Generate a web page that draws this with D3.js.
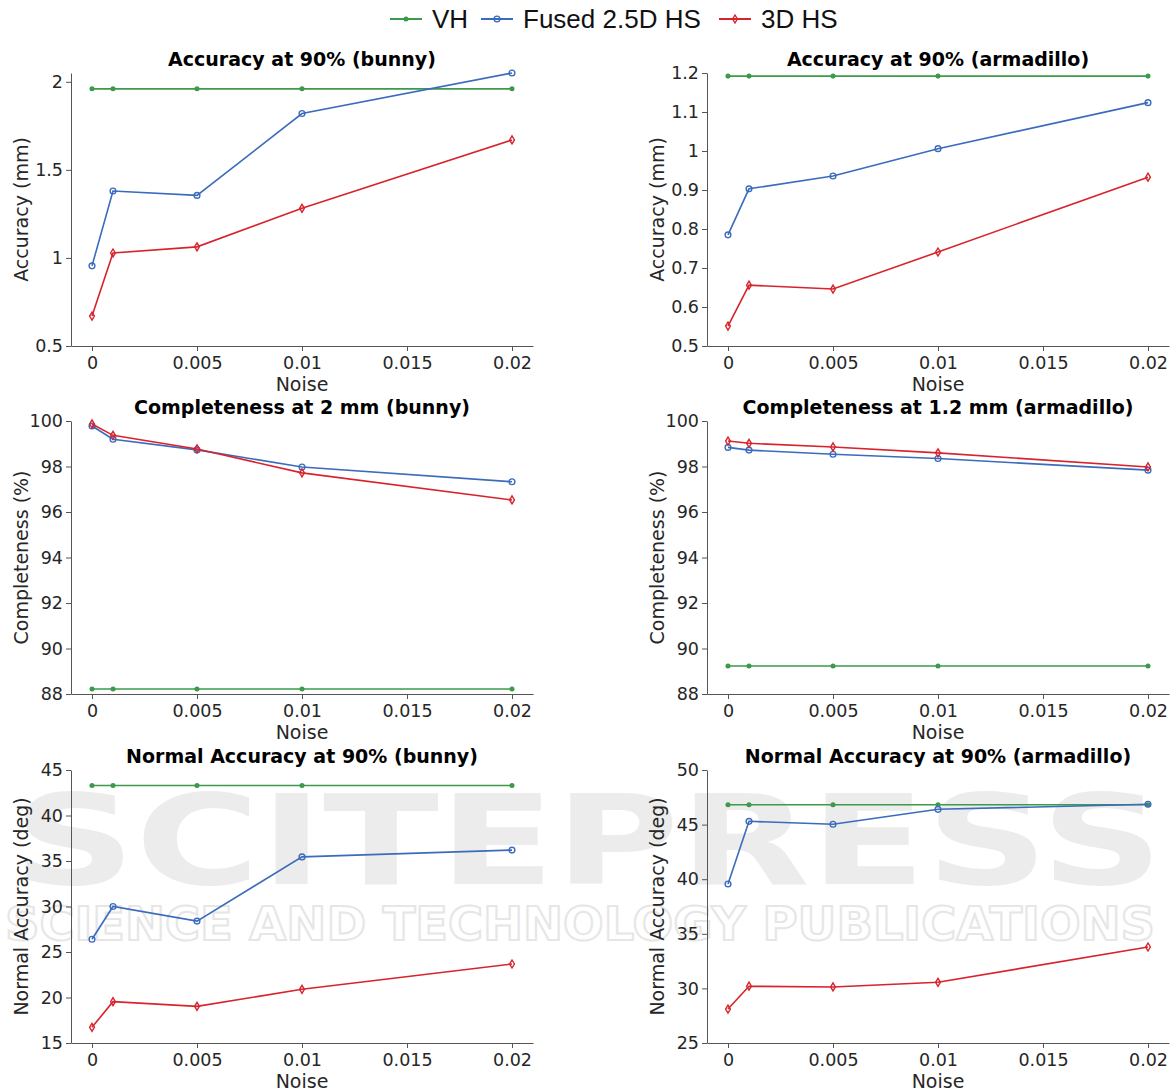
<!DOCTYPE html>
<html>
<head>
<meta charset="utf-8">
<script src="https://cdn.jsdelivr.net/npm/d3@7"></script>
<style>
  body { margin: 0; background: #fff; }
  svg { display: block; font-family: "DejaVu Sans", sans-serif; }
</style>
</head>
<body>
<svg id="chart" width="1176" height="1092"></svg>
<script>
const noise = [0, 0.001, 0.005, 0.01, 0.02];
const xTicks = [0, 0.005, 0.01, 0.015, 0.02];
const seriesNames = ["VH", "Fused 2.5D HS", "3D HS"];

// bunny accuracy (mm)
const accBunnyVH = [1.96, 1.96, 1.96, 1.96, 1.96];
const accBunnyFused = [0.955, 1.38, 1.355, 1.82, 2.05];
const accBunny3D = [0.67, 1.028, 1.063, 1.282, 1.67];
// armadillo accuracy (mm)
const accArmaVH = [1.192, 1.192, 1.192, 1.192, 1.192];
const accArmaFused = [0.785, 0.903, 0.936, 1.006, 1.124];
const accArma3D = [0.551, 0.656, 0.646, 0.741, 0.933];
// bunny completeness (%)
const compBunnyVH = [88.22, 88.22, 88.22, 88.22, 88.22];
const compBunnyFused = [99.78, 99.2, 98.73, 97.98, 97.33];
const compBunny3D = [99.87, 99.37, 98.77, 97.72, 96.53];
// armadillo completeness (%)
const compArmaVH = [89.23, 89.23, 89.23, 89.23, 89.23];
const compArmaFused = [98.84, 98.72, 98.54, 98.35, 97.84];
const compArma3D = [99.12, 99.02, 98.86, 98.6, 97.98];
// bunny normal accuracy (deg)
const normBunnyVH = [43.3, 43.3, 43.3, 43.3, 43.3];
const normBunnyFused = [26.4, 30.0, 28.4, 35.45, 36.2];
const normBunny3D = [16.72, 19.54, 19.03, 20.9, 23.68];
// armadillo normal accuracy (deg)
const normArmaVH = [46.82, 46.82, 46.82, 46.82, 46.82];
const normArmaFused = [39.56, 45.3, 45.03, 46.4, 46.86];
const normArma3D = [28.11, 30.2, 30.13, 30.56, 33.79];

const colors = ["#3c9a4a", "#3a6bbd", "#d8232c"];

const panels = [
  { title: "Accuracy at 90% (bunny)", ylabel: "Accuracy (mm)", domain: [0.5, 2.05], ticks: [0.5, 1, 1.5, 2],
    series: [accBunnyVH, accBunnyFused, accBunny3D], col: 0, row: 0 },
  { title: "Accuracy at 90% (armadillo)", ylabel: "Accuracy (mm)", domain: [0.5, 1.2], ticks: [0.5, 0.6, 0.7, 0.8, 0.9, 1, 1.1, 1.2],
    series: [accArmaVH, accArmaFused, accArma3D], col: 1, row: 0 },
  { title: "Completeness at 2 mm (bunny)", ylabel: "Completeness (%)", domain: [88, 100], ticks: [88, 90, 92, 94, 96, 98, 100],
    series: [compBunnyVH, compBunnyFused, compBunny3D], col: 0, row: 1 },
  { title: "Completeness at 1.2 mm (armadillo)", ylabel: "Completeness (%)", domain: [88, 100], ticks: [88, 90, 92, 94, 96, 98, 100],
    series: [compArmaVH, compArmaFused, compArma3D], col: 1, row: 1 },
  { title: "Normal Accuracy at 90% (bunny)", ylabel: "Normal Accuracy (deg)", domain: [15, 45], ticks: [15, 20, 25, 30, 35, 40, 45],
    series: [normBunnyVH, normBunnyFused, normBunny3D], col: 0, row: 2 },
  { title: "Normal Accuracy at 90% (armadillo)", ylabel: "Normal Accuracy (deg)", domain: [25, 50], ticks: [25, 30, 35, 40, 45, 50],
    series: [normArmaVH, normArmaFused, normArma3D], col: 1, row: 2 },
];

const svg = d3.select("#chart");

// faint publisher watermark behind the plots
const wm = svg.append("g").attr("fill", "#ececec").attr("font-family", "'DejaVu Sans', sans-serif").attr("font-weight", "bold");
wm.append("text").attr("x", 588).attr("y", 884).attr("text-anchor", "middle")
  .attr("font-size", 124).attr("textLength", 1150).attr("lengthAdjust", "spacingAndGlyphs").text("SCITEPRESS");
wm.append("text").attr("x", 580).attr("y", 940).attr("text-anchor", "middle")
  .attr("font-size", 46).attr("textLength", 1150).attr("lengthAdjust", "spacingAndGlyphs")
  .attr("fill", "none").attr("stroke", "#e6e6e6").attr("stroke-width", 2)
  .text("SCIENCE AND TECHNOLOGY PUBLICATIONS");

const colX = [71, 707];
const rowTop = [73, 421, 770];
const plotW = 462, plotH = 273;

panels.forEach(p => {
  const left = colX[p.col], top = rowTop[p.row];
  const x = d3.scaleLinear().domain([-0.001, 0.021]).range([left, left + plotW]);
  const y = d3.scaleLinear().domain(p.domain).range([top + plotH, top]);

  const g = svg.append("g");

  const xAxis = g.append("g")
    .attr("transform", `translate(0,${top + plotH})`)
    .call(d3.axisBottom(x).tickValues(xTicks).tickSize(5).tickSizeOuter(0).tickFormat(d => String(+d.toFixed(3))));
  const yAxis = g.append("g")
    .attr("transform", `translate(${left},0)`)
    .call(d3.axisLeft(y).tickValues(p.ticks).tickSize(5).tickSizeOuter(0).tickFormat(d => String(+d.toFixed(2))));

  [xAxis, yAxis].forEach(a => {
    a.select(".domain").attr("stroke", "#555");
    a.selectAll(".tick line").attr("stroke", "#555");
    a.selectAll(".tick text").attr("fill", "#262626").style("font-size", "17.5px")
      .style("font-family", "'DejaVu Sans', sans-serif");
  });
  xAxis.selectAll(".tick text").attr("dy", "0.88em");
  yAxis.selectAll(".tick text").attr("x", -8);

  g.append("text").attr("x", left + plotW / 2).attr("y", top + plotH + 45)
    .attr("text-anchor", "middle").attr("fill", "#262626").style("font-size", "19px").text("Noise");
  g.append("text").attr("transform", `translate(${left - 43},${top + plotH / 2}) rotate(-90)`)
    .attr("text-anchor", "middle").attr("fill", "#262626").style("font-size", "19px").text(p.ylabel);
  g.append("text").attr("x", left + plotW / 2).attr("y", top - 7)
    .attr("text-anchor", "middle").attr("fill", "#000").attr("font-weight", "bold").style("font-size", "19px").text(p.title);

  p.series.forEach((vals, si) => {
    const pts = noise.map((n, i) => [x(n), y(vals[i])]);
    g.append("path").datum(pts).attr("fill", "none").attr("stroke", colors[si]).attr("stroke-width", 1.6)
      .attr("d", d3.line());
    drawMarkers(g, pts, si);
  });
});

function drawMarkers(g, pts, si) {
  const sel = g.append("g").selectAll("path").data(pts).enter().append("path")
    .attr("transform", d => `translate(${d[0]},${d[1]})`);
  if (si === 0) {
    sel.attr("d", d3.symbol(d3.symbolCircle, 20)).attr("fill", colors[0]);
  } else if (si === 1) {
    sel.attr("d", d3.symbol(d3.symbolCircle, 26)).attr("fill", "none").attr("stroke", colors[1]).attr("stroke-width", 1.4);
  } else {
    sel.attr("d", "M0,-4L2.4,0L0,4L-2.4,0Z").attr("fill", "none").attr("stroke", colors[2]).attr("stroke-width", 1.4);
  }
}

// legend
const legendX = [390, 481, 719];
const leg = svg.append("g");
seriesNames.forEach((name, i) => {
  const lx = legendX[i], ly = 19;
  const lg = leg.append("g");
  lg.append("line").attr("x1", lx).attr("x2", lx + 32).attr("y1", ly).attr("y2", ly)
    .attr("stroke", colors[i]).attr("stroke-width", 2);
  drawMarkers(lg, [[lx + 16, ly]], i);
  lg.append("text").attr("x", lx + 42).attr("y", ly + 9)
    .style("font-family", "'Liberation Sans', Arial, sans-serif").style("font-size", "26px")
    .attr("fill", "#111").text(name);
});
</script>
</body>
</html>
